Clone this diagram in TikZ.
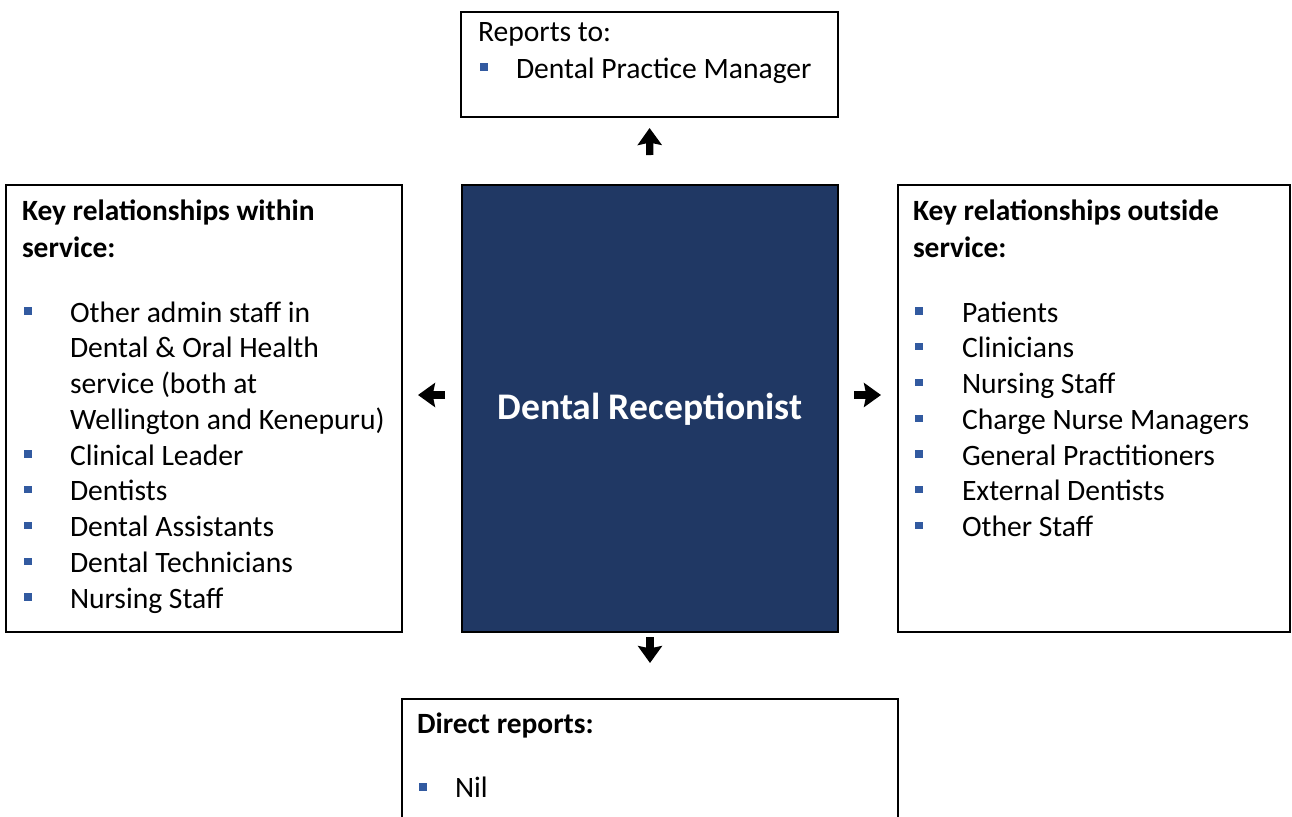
\documentclass[tikz,border=0pt]{standalone}
\usepackage{fontspec}
\setmainfont{Carlito}
\usetikzlibrary{arrows.meta}
\definecolor{navy}{RGB}{32,56,100}
\definecolor{bulletblue}{RGB}{50,90,160}
\begin{document}
\begin{tikzpicture}[x=0.5pt,y=-0.5pt,
  box/.style={draw=black,line width=1pt,inner sep=0,outer sep=0,anchor=north west},
  txt/.style={anchor=base west,inner sep=0,outer sep=0,font=\fontsize{14.8}{18}\selectfont},
  head/.style={txt,font=\fontsize{14.7}{18}\selectfont\bfseries},
  bul/.style={fill=bulletblue,minimum size=3.6pt,inner sep=0,outer sep=0},
  relarrow/.style={line width=3.6pt,-{Stealth[width=12pt,length=8.5pt,inset=1.2pt]}}]
  \useasboundingbox (0,0) rectangle (1292,816);

  % frames
  \node[box,minimum width=188.5pt,minimum height=52.5pt] (top) at (461,12) {};
  \node[box,minimum width=198pt,minimum height=223.5pt] (left) at (6,185) {};
  \node[box,fill=navy,minimum width=188pt,minimum height=223.5pt] (role) at (462,185) {};
  \node[box,minimum width=196pt,minimum height=223.5pt] (right) at (898,185) {};
  \node[inner sep=0,outer sep=0,anchor=north west,minimum width=248pt,minimum height=62pt] (bottom) at (402,699) {};
  \draw[line width=1pt] (bottom.south west) -- (bottom.north west) -- (bottom.north east) -- (bottom.south east);

  % central title
  \node[text=white,font=\fontsize{18.8}{22}\selectfont\bfseries,anchor=base] (title) at (650,419) {Dental Receptionist};

  % arrows between the frames
  \coordinate (lrow) at (0,395);
  \draw[relarrow,shorten <=15pt,shorten >=5.5pt] (role.north) -- (top.south);
  \draw[relarrow,shorten <=2.5pt,shorten >=18pt] (role.south) -- (bottom.north);
  \draw[relarrow,shorten <=8.5pt,shorten >=8pt] (role.west |- lrow) -- (left.east |- lrow);
  \draw[relarrow,shorten <=8pt,shorten >=8.5pt] (role.east |- lrow) -- (right.west |- lrow);

  % reports to
  \node[txt] (topHead) at (478,41) {Reports to:};
  \node[bul] (topB1) at (484,67) {};
  \node[txt] (topT1) at (516,78) {Dental Practice Manager};

  % relationships within service
  \node[head] (leftHead1) at (22,220) {Key relationships within};
  \node[head] (leftHead2) at (22,257) {service:};
  \foreach \t [count=\i] in {{Other admin staff in},{Dental \& Oral Health},{service (both at},{Wellington and Kenepuru)},{Clinical Leader},{Dentists},{Dental Assistants},{Dental Technicians},{Nursing Staff}}
    \node[txt] (leftT\i) at (70,{322+35.75*(\i-1)}) {\t};
  \foreach \i in {1,5,6,7,8,9}
    \node[bul] (leftB\i) at (28,{311+35.75*(\i-1)}) {};

  % relationships outside service
  \node[head] (rightHead1) at (913,220) {Key relationships outside};
  \node[head] (rightHead2) at (913,257) {service:};
  \foreach \t [count=\i] in {{Patients},{Clinicians},{Nursing Staff},{Charge Nurse Managers},{General Practitioners},{External Dentists},{Other Staff}}
  {
    \node[txt] (rightT\i) at (962,{322+35.75*(\i-1)}) {\t};
    \node[bul] (rightB\i) at (919,{311+35.75*(\i-1)}) {};
  }

  % direct reports
  \node[head] (botHead) at (417,733) {Direct reports:};
  \node[bul] (botB1) at (423,787) {};
  \node[txt] (botT1) at (455,797) {Nil};
\end{tikzpicture}
\end{document}
